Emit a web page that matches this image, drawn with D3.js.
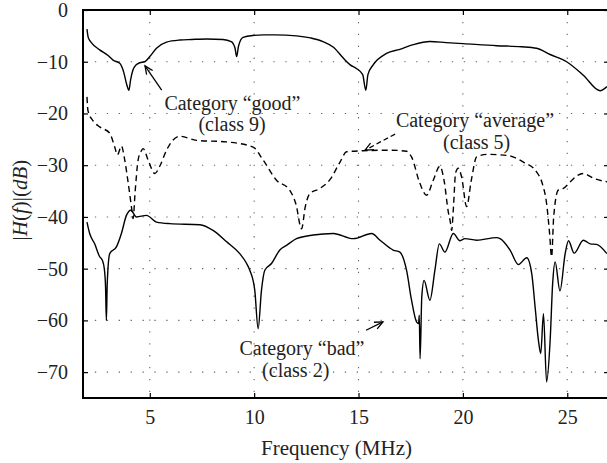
<!DOCTYPE html>
<html><head><meta charset="utf-8">
<script src="https://cdn.jsdelivr.net/npm/d3@7"></script>
<style>
html,body{margin:0;padding:0;background:#fff;}
svg{display:block;font-family:"Liberation Serif","DejaVu Serif",serif;}
</style></head>
<body>
<svg id="chart" width="607" height="463"></svg>
<script>
// ---- data ----
const goodF = [1.99,2.05,2.2,2.6,3.0,3.24,3.56,3.75,3.9,4.0,4.08,4.2,4.35,4.52,4.76,5.0,5.32,5.8,6.44,7.0,7.72,8.5,8.9,9.08,9.16,9.25,9.47,10.0,10.43,11.0,12.03,12.7,13.3,13.8,14.27,14.6,14.9,15.2,15.35,15.45,15.7,16.34,16.98,17.62,18.42,19.2,20.02,21.62,22.8,23.53,24.18,24.97,25.77,26.57,26.9];
const goodDB = [-3.7,-5.3,-6.3,-7.7,-8.8,-9.7,-10.3,-12,-14.5,-15.5,-13.5,-11.5,-10.6,-10.2,-10.0,-9.0,-7.4,-6.2,-5.8,-5.7,-5.6,-5.7,-6.1,-7.3,-9.0,-7.0,-5.3,-4.9,-4.8,-4.8,-5.0,-5.4,-6.1,-7.2,-9.3,-10.6,-11.3,-12.5,-15.5,-12.5,-10.6,-8.4,-7.6,-6.7,-6.1,-6.3,-6.5,-6.9,-7.1,-7.4,-8.6,-10.0,-12.6,-15.6,-14.8];

const avgF = [1.99,2.04,2.3,2.6,3.08,3.32,3.45,3.64,3.8,3.95,4.12,4.2,4.3,4.44,4.6,4.68,4.92,5.24,5.5,5.8,6.1,6.44,7.24,8.67,9.95,10.43,11.07,11.7,12.0,12.27,12.45,12.67,13.15,13.63,14.1,14.43,15.23,16.5,17.3,17.54,17.94,18.26,18.58,18.9,19.1,19.3,19.4,19.46,19.55,19.65,19.78,19.94,20.18,20.4,20.66,21.14,22.1,22.9,23.53,23.8,24.01,24.15,24.25,24.35,24.57,24.81,25.2,25.45,25.77,26.3,26.9];
const avgDB = [-16.8,-19.5,-21.5,-22.6,-23.8,-26.5,-28.0,-26.3,-29,-33,-38,-40.3,-35,-29,-27.2,-26.8,-29,-31.6,-30,-27.1,-25.2,-24.4,-25.2,-25.5,-26.5,-29,-32.9,-34.8,-37.5,-42.3,-38,-35.5,-34.5,-32.8,-29.5,-27.4,-27.2,-27.1,-27.3,-28.4,-33.5,-35.8,-32.9,-30.2,-33,-39,-41,-42.6,-38,-31.5,-30.6,-32.3,-38,-33,-28.4,-27.9,-28.1,-29.4,-31.3,-33.5,-37.4,-43,-47.7,-40,-34.8,-34.5,-33,-32.1,-31.6,-32.6,-33.2];

const badF = [1.99,2.12,2.36,2.6,2.73,2.82,2.88,2.92,2.96,3.08,3.4,3.64,3.88,4.09,4.36,4.84,5.32,5.96,7.4,8.03,8.68,9.31,9.64,9.79,10.03,10.19,10.35,10.51,10.83,11.23,11.55,12.03,12.83,13.79,14.75,15.63,16.03,16.66,16.98,17.3,17.54,17.78,17.88,17.91,17.95,18.03,18.14,18.42,18.66,18.87,19.14,19.54,19.86,20.1,20.66,21.62,21.78,22.26,22.66,23.06,23.3,23.46,23.62,23.73,23.86,24.01,24.18,24.3,24.42,24.65,24.9,25.06,25.33,25.77,26.1,26.4,26.9];
const badDB = [-41,-43.2,-45.2,-47.7,-48.4,-50,-53.5,-60,-53,-47.1,-45.8,-43.2,-39.7,-38.7,-40,-39.7,-41,-41.3,-41.5,-42.6,-44.8,-47.1,-49,-50.3,-54.2,-61.6,-54.2,-50.3,-49,-46.4,-45.5,-44.2,-43.5,-43.2,-44.2,-43.2,-44.5,-46.4,-46.8,-50.3,-56.1,-60.3,-60.6,-59,-67.4,-55.5,-52.3,-56.1,-50.3,-45.2,-46.8,-43.2,-44.6,-44.2,-44.5,-44,-44.2,-46.4,-49.2,-47.9,-51,-57.4,-63.9,-66.4,-58.7,-71.9,-63.9,-52.9,-48.7,-54.3,-47.1,-44.6,-47,-44.5,-45.2,-45.3,-47.1];

const xTicks = [5,10,15,20,25];
const yTicks = [0,-10,-20,-30,-40,-50,-60,-70];
const xLabel = "Frequency (MHz)";

// annotations (data coordinates)
const labels = [
  {lines:["Category \u201cgood\u201d","(class 9)"], f:[8.96,8.94], db:[-19.3,-23.4], from:[5.57,-15.5], to:[4.77,-10.8], dashed:false},
  {lines:["Category \u201caverage\u201d","(class 5)"], f:[20.58,20.66], db:[-22.6,-26.9], from:[16.75,-24.0], to:[15.31,-27.1], dashed:true},
  {lines:["Category \u201cbad\u201d","(class 2)"], f:[12.29,11.99], db:[-66.7,-70.9], from:[15.36,-61.9], to:[16.17,-60.3], dashed:false}
];

// ---- chart ----
const svg = d3.select("#chart");
const L = 83, R = 609, T = 10, B = 398;
const x = d3.scaleLinear().domain([1.8, 27]).range([L, R]);
const y = d3.scaleLinear().domain([-75, 0]).range([B, T]);

// grid
const grid = svg.append("g");
xTicks.forEach(t => grid.append("line").attr("x1", x(t)).attr("x2", x(t)).attr("y1", T).attr("y2", B)
  .attr("stroke", "#666").attr("stroke-width", 1.1).attr("stroke-dasharray", "1.3,10.6"));
yTicks.forEach(t => grid.append("line").attr("x1", L).attr("x2", R).attr("y1", y(t)).attr("y2", y(t))
  .attr("stroke", "#666").attr("stroke-width", 1.1).attr("stroke-dasharray", "1.3,10.6"));

// curves
const line = d3.line().curve(d3.curveMonotoneX).x(d => x(d[0])).y(d => y(d[1]));
const zip = (a, b) => a.map((v, i) => [v, b[i]]);
svg.append("clipPath").attr("id", "clip").append("rect")
  .attr("x", L).attr("y", T).attr("width", R - L).attr("height", B - T);
const plot = svg.append("g").attr("clip-path", "url(#clip)");
plot.append("path").attr("d", line(zip(goodF, goodDB))).attr("fill", "none").attr("stroke", "#000").attr("stroke-width", 1.4);
plot.append("path").attr("d", line(zip(avgF, avgDB))).attr("fill", "none").attr("stroke", "#000").attr("stroke-width", 1.4).attr("stroke-dasharray", "6,4");
plot.append("path").attr("d", line(zip(badF, badDB))).attr("fill", "none").attr("stroke", "#000").attr("stroke-width", 1.4);

// axes
const fs = 20, fsT = 21;
const xb = svg.append("g").attr("transform", `translate(0,${B})`)
  .call(d3.axisBottom(x).tickValues(xTicks).tickSizeInner(-5).tickSizeOuter(0).tickPadding(12).tickFormat(d3.format("d")));
const xt = svg.append("g").attr("transform", `translate(0,${T})`)
  .call(d3.axisTop(x).tickValues(xTicks).tickSizeInner(-5).tickSizeOuter(0).tickFormat(""));
const yl = svg.append("g").attr("transform", `translate(${L},0)`)
  .call(d3.axisLeft(y).tickValues(yTicks).tickSizeInner(-5).tickSizeOuter(0).tickPadding(15)
    .tickFormat(d => d === 0 ? "0" : "\u2212" + Math.abs(d)));
const yr = svg.append("g").attr("transform", `translate(${R},0)`)
  .call(d3.axisRight(y).tickValues(yTicks).tickSizeInner(-5).tickSizeOuter(0).tickFormat(""));
[xb, xt, yl, yr].forEach(g => {
  g.select(".domain").attr("stroke", "#000").attr("stroke-width", 2);
  g.selectAll(".tick line").attr("stroke", "#000").attr("stroke-width", 1.2);
  g.selectAll("text").attr("font-family", "Liberation Serif, serif").attr("font-size", fs).attr("fill", "#222");
});
xb.select(".domain").attr("d", `M${L - 1},0H${R + 1}`);
xt.select(".domain").attr("d", `M${L - 1},0H${R + 1}`);
yl.select(".domain").attr("d", `M0,${T}V${B}`);
yr.select(".domain").attr("d", `M0,${T}V${B}`);

// axis titles
svg.append("text").attr("x", 336.5).attr("y", 455)
  .attr("text-anchor", "middle").attr("font-size", fsT).attr("fill", "#222").text(xLabel);
const yt = svg.append("text").attr("transform", "translate(27,200) rotate(-90)")
  .attr("text-anchor", "middle").attr("font-size", fsT).attr("fill", "#222");
[["|", false], ["H", true], ["(", false], ["f", true], [")|(", false], ["dB", true], [")", false]].forEach(([t, it]) => {
  yt.append("tspan").attr("font-style", it ? "italic" : "normal").text(t);
});

// annotations
const ann = svg.append("g");
labels.forEach(a => {
  a.lines.forEach((s, i) => {
    ann.append("text").attr("x", x(a.f[i])).attr("y", y(a.db[i])).attr("text-anchor", "middle")
      .attr("font-size", fs).attr("fill", "#222").text(s);
  });
  const x1 = x(a.from[0]), y1 = y(a.from[1]), x2 = x(a.to[0]), y2 = y(a.to[1]);
  ann.append("line").attr("x1", x1).attr("y1", y1).attr("x2", x2).attr("y2", y2)
    .attr("stroke", "#000").attr("stroke-width", 1.3).attr("stroke-dasharray", a.dashed ? "5,3" : null);
  const ang = Math.atan2(y2 - y1, x2 - x1), hl = 9, ha = 0.42;
  const p1 = [x2 - hl * Math.cos(ang - ha), y2 - hl * Math.sin(ang - ha)];
  const p2 = [x2 - hl * Math.cos(ang + ha), y2 - hl * Math.sin(ang + ha)];
  ann.append("path").attr("d", `M${p1[0]},${p1[1]}L${x2},${y2}L${p2[0]},${p2[1]}`)
    .attr("fill", "none").attr("stroke", "#000").attr("stroke-width", 1.3);
});
</script>
</body></html>
